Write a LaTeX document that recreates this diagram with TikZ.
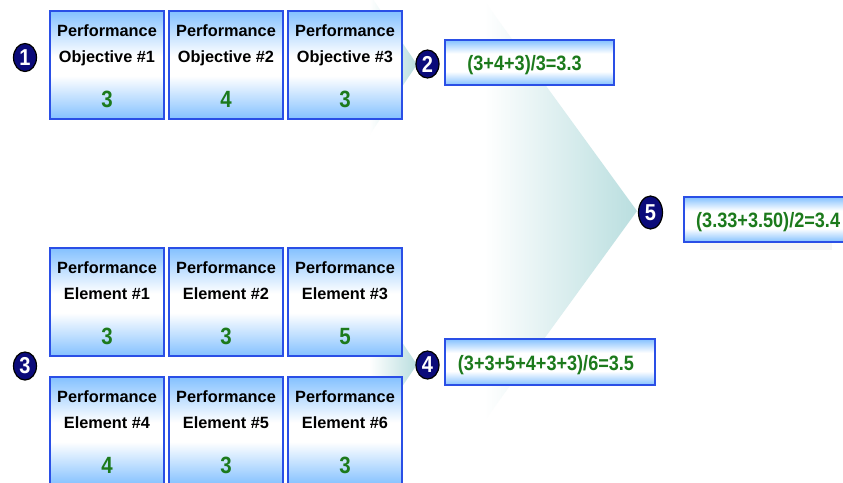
\documentclass[tikz,border=0pt]{standalone}
\usepackage{fontspec}
\setmainfont{Liberation Sans}
\newfontfamily\condfont[FakeStretch=0.87]{Liberation Sans}
\usetikzlibrary{shapes.geometric}
\definecolor{bborder}{HTML}{2A4FE6}
\definecolor{lblue}{HTML}{84C1FF}
\definecolor{tealc}{HTML}{B9DEDF}
\definecolor{navyc}{HTML}{0B0B7A}
\definecolor{numgreen}{HTML}{1C7A1C}
\pgfdeclareverticalshading{boxshade}{100bp}{color(0bp)=(lblue); color(25bp)=(lblue); color(45bp)=(white); color(54bp)=(white); color(75bp)=(lblue); color(100bp)=(lblue)}
\pgfdeclareverticalshading{resshade}{100bp}{color(0bp)=(lblue); color(25bp)=(lblue); color(40bp)=(white); color(60bp)=(white); color(75bp)=(lblue); color(100bp)=(lblue)}
\pgfdeclarehorizontalshading{funshade}{100bp}{color(0bp)=(white); color(25bp)=(white); color(33bp)=(white); color(75bp)=(tealc); color(100bp)=(tealc)}
\tikzset{
  pbox/.style={draw=bborder, line width=2pt, shading=boxshade, minimum width=114pt, minimum height=108pt, anchor=north west, inner sep=0pt},
  rbox/.style={draw=bborder, line width=2pt, shading=resshade, anchor=north west, inner sep=0pt},
  ttl/.style={font=\fontsize{16.3}{18}\selectfont\bfseries, text=black, anchor=base, inner sep=0pt},
  num/.style={font=\condfont\fontsize{23.5}{25}\selectfont\bfseries, text=numgreen, anchor=base, inner sep=0pt},
  frm/.style={font=\condfont\fontsize{20.8}{23}\selectfont\bfseries, text=numgreen, anchor=base, inner sep=0pt},
  badge/.style={ellipse, draw=black, line width=1.2pt, fill=navyc, minimum width=23pt, minimum height=28pt, inner sep=0pt, text=white, font=\condfont\fontsize{23}{24}\selectfont\bfseries},
  funnel/.style={shading=funshade, draw=none}
}
\begin{document}
\begin{tikzpicture}[x=1pt, y=-1pt]
\useasboundingbox (0,0) rectangle (843,482);
\fill[white] (0,0) rectangle (843,482);
% funnel shapes
\shade[funnel] (455,-5) -- (480,-5) -- (637,211) -- (480,427) -- (455,427) -- cycle;
\shade[funnel] (360,-20) -- (417,64.5) -- (360,149) -- cycle;
\shade[funnel] (360,280) -- (417,364.5) -- (360,449) -- cycle;
% objective boxes
\node[pbox] (o1) at (49,10) {};
\node[pbox] (o2) at (168,10) {};
\node[pbox] (o3) at (287,10) {};
% element boxes
\node[pbox] (e1) at (49,247) {};
\node[pbox] (e2) at (168,247) {};
\node[pbox] (e3) at (287,247) {};
\node[pbox] (e4) at (49,376) {};
\node[pbox] (e5) at (168,376) {};
\node[pbox] (e6) at (287,376) {};
% texts
\foreach \b/\l/\n in {o1/Objective \#1/3, o2/Objective \#2/4, o3/Objective \#3/3,
                      e1/Element \#1/3, e2/Element \#2/3, e3/Element \#3/5,
                      e4/Element \#4/4, e5/Element \#5/3, e6/Element \#6/3}{
  \node[ttl] (\b a) at ([yshift=-26.7pt]\b.north) {Performance};
  \node[ttl] (\b b) at ([yshift=-52pt]\b.north) {\l};
  \node[num] (\b n) at ([yshift=-97pt]\b.north) {\n};
}
% result boxes
\fill[black!4] (700,243) rectangle (832,250);
\node[rbox, minimum width=169pt, minimum height=45pt] (r2) at (444,39) {};
\node[rbox, minimum width=210pt, minimum height=46pt] (r4) at (444,338) {};
\node[rbox, minimum width=170pt, minimum height=45pt] (r5) at (683,196) {};
\node[frm] (t2) at (524.5,70) {(3+4+3)/3=3.3};
\node[frm] (t4) at (546,370) {(3+3+5+4+3+3)/6=3.5};
\node[frm, anchor=base west] (t5) at (696,227) {(3.33+3.50)/2=3.4};
% badges
\node[badge] (c1) at (25,57.5) {1};
\node[badge] (c2) at (427.5,64) {2};
\node[badge] (c3) at (25,366) {3};
\node[badge] (c4) at (427.5,365) {4};
\node[badge, minimum width=24pt, minimum height=33pt] (c5) at (650.5,212.5) {5};
\end{tikzpicture}
\end{document}
